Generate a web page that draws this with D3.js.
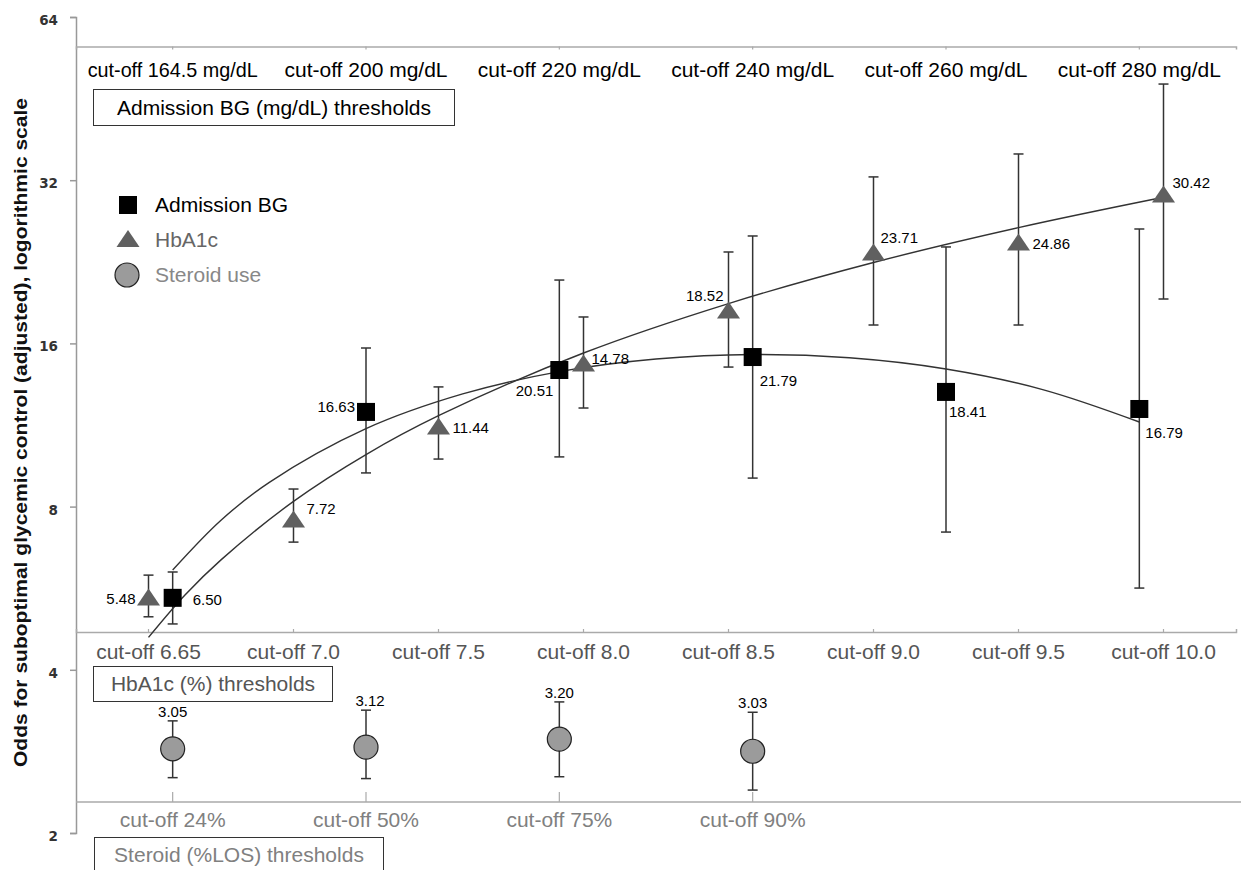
<!DOCTYPE html>
<html>
<head>
<meta charset="utf-8">
<script src="https://cdn.jsdelivr.net/npm/d3@7"></script>
<style>
  html, body { margin: 0; padding: 0; background: #fff; }
  svg { display: block; font-family: "Liberation Sans", Arial, Helvetica, sans-serif; }
</style>
</head>
<body>
<svg id="chart" width="1241" height="870"></svg>
<script>
// ---------------- data ----------------
const yTicks = [2, 4, 8, 16, 32, 64];

const bgCats = ["cut-off 164.5 mg/dL", "cut-off 200 mg/dL", "cut-off 220 mg/dL",
                "cut-off 240 mg/dL", "cut-off 260 mg/dL", "cut-off 280 mg/dL"];
const bgOdds = [5.43, 11.96, 14.29, 15.10, 13.02, 12.11];
const bgLow  = [4.86, 9.23, 9.88, 9.03, 7.18, 5.66];
const bgHigh = [6.06, 15.69, 20.94, 25.25, 24.10, 26.01];
const bgLabels = ["6.50", "16.63", "20.51", "21.79", "18.41", "16.79"];

const hbCats = ["cut-off 6.65", "cut-off 7.0", "cut-off 7.5", "cut-off 8.0",
                "cut-off 8.5", "cut-off 9.0", "cut-off 9.5", "cut-off 10.0"];
const hbOdds = [5.45, 7.59, 11.27, 14.72, 18.44, 23.59, 24.61, 30.17];
const hbLow  = [5.01, 6.88, 9.79, 12.16, 14.47, 17.30, 17.30, 19.32];
const hbHigh = [5.98, 8.62, 13.30, 17.90, 23.59, 32.45, 35.77, 48.14];
const hbLabels = ["5.48", "7.72", "11.44", "14.78", "18.52", "23.71", "24.86", "30.42"];

const stCats = ["cut-off 24%", "cut-off 50%", "cut-off 75%", "cut-off 90%"];
const stOdds = [2.86, 2.88, 2.98, 2.83];
const stLow  = [2.53, 2.52, 2.54, 2.40];
const stHigh = [3.22, 3.37, 3.49, 3.34];
const stLabels = ["3.05", "3.12", "3.20", "3.03"];

// trend lines (x as category index)
const bgTrendIdx = [0, 0.25, 0.5, 1, 1.5, 2, 2.5, 3, 3.5, 4, 4.5, 5];
const bgTrend    = [6.11, 7.55, 8.87, 11.14, 12.91, 14.19, 14.97, 15.26, 15.05, 14.35, 13.15, 11.46];
const hbTrendIdx = [0, 0.25, 0.5, 1, 1.5, 2, 3, 4, 5, 6, 7];
const hbTrend    = [4.59, 5.49, 6.38, 8.18, 9.98, 11.77, 15.36, 18.95, 22.56, 26.16, 29.76];

const legendItems = ["Admission BG", "HbA1c", "Steroid use"];
const yTitle = "Odds for suboptimal glycemic control (adjusted), logorithmic scale";

// ---------------- layout / styles (kept apart from data) ----------------
const X0 = 76, X1 = 1236;
const yTop = 17, yBot = 833;
const bgAxisY = 46.5, hbAxisY = 632, stAxisY = 802;
const C_HB = "#555555", C_ST = "#808080", C_AX = "#aaaaaa";
const FS = 21;

// label placements [dx, dy, anchor]
const bgLabelPos = [[20, 7, "start"], [-11, 0, "end"], [-6, 26, "end"], [7, 29, "start"], [3, 25, "start"], [6, 29, "start"]];
const hbLabelPos = [[-13, 7, "end"], [13, -5, "start"], [14, 7, "start"], [8, 1, "start"], [-5, -9, "end"], [7, -9, "start"], [14, 7, "start"], [9, -6, "start"]];

const svg = d3.select("#chart");
svg.append("rect").attr("width", 1241).attr("height", 870).attr("fill", "#fff");

const y = d3.scaleLog().base(2).domain([2, 64]).range([yBot, yTop]);
const xBG = d3.scaleBand().domain(bgCats).range([X0, X1]);
const xHB = d3.scaleBand().domain(hbCats).range([X0, X1]);
const xST = d3.scaleBand().domain(stCats).range([X0, X0 + 4 * xBG.step()]);

const cx = (sc, c) => sc(c) + sc.bandwidth() / 2;
const idxX = (sc, cats, i) => sc(cats[0]) + sc.bandwidth() / 2 + i * sc.step();

// ---------------- y axis ----------------
const yAxis = d3.axisLeft(y).tickValues(yTicks).tickFormat(d3.format("d")).tickSize(6).tickPadding(12);
const gY = svg.append("g").attr("transform", `translate(${X0},0)`).call(yAxis);
gY.select(".domain").attr("stroke", "#999").attr("stroke-width", 1.5);
gY.selectAll(".tick line").attr("stroke", "#999").attr("stroke-width", 1.5);
gY.selectAll(".tick text").attr("font-family", "DejaVu Sans, sans-serif").attr("font-weight", "bold")
  .attr("font-size", 13.5).attr("fill", "#333").attr("dy", "0.55em");

svg.append("text")
  .attr("transform", `translate(27,${(98 + 767) / 2}) rotate(-90)`)
  .attr("text-anchor", "middle")
  .attr("font-weight", "bold").attr("font-size", 18).attr("fill", "#111")
  .attr("textLength", 669).attr("lengthAdjust", "spacingAndGlyphs")
  .text(yTitle);

// ---------------- category axes ----------------
function styleAxis(g, color) {
  g.select(".domain").attr("stroke", C_AX).attr("stroke-width", 1.5);
  g.selectAll(".tick line").attr("stroke", C_AX).attr("stroke-width", 1.2);
  g.selectAll(".tick text").attr("font-size", FS).attr("fill", color)
    .attr("font-family", "Liberation Sans, Arial, sans-serif");
}
const gBG = svg.append("g").attr("transform", `translate(0,${bgAxisY})`)
  .call(d3.axisBottom(xBG).tickSize(3).tickSizeOuter(3).tickPadding(12.5));
styleAxis(gBG, "#000");
gBG.selectAll(".tick text").filter((d, i) => i === 0)
  .attr("textLength", 170).attr("lengthAdjust", "spacingAndGlyphs");

const gHB = svg.append("g").attr("transform", `translate(0,${hbAxisY})`)
  .call(d3.axisBottom(xHB).tickSize(-3).tickSizeOuter(-3).tickPadding(12));
styleAxis(gHB, C_HB);

svg.append("line").attr("x1", X0).attr("x2", 1241).attr("y1", stAxisY).attr("y2", stAxisY)
  .attr("stroke", C_AX).attr("stroke-width", 1.5);
const gST = svg.append("g").attr("transform", `translate(0,${stAxisY})`)
  .call(d3.axisBottom(xST).tickSize(-10).tickSizeOuter(0).tickPadding(10));
styleAxis(gST, C_ST);
gST.select(".domain").remove();

// ---------------- boxes ----------------
function box(x, yy, w, h, txt, color) {
  svg.append("rect").attr("x", x).attr("y", yy).attr("width", w).attr("height", h)
    .attr("fill", "#fff").attr("stroke", "#333").attr("stroke-width", 1);
  svg.append("text").attr("x", x + w / 2).attr("y", yy + h / 2).attr("dy", "0.35em")
    .attr("text-anchor", "middle").attr("font-size", FS).attr("fill", color).text(txt);
}
box(93.5, 89.5, 361, 36, "Admission BG (mg/dL) thresholds", "#000");
box(93.5, 666.5, 239, 35, "HbA1c (%) thresholds", C_HB);
box(94.5, 837.5, 289, 35, "Steroid (%LOS) thresholds", C_ST);

// ---------------- trend lines ----------------
const bgLine = d3.line().curve(d3.curveCatmullRom)
  .x(i => idxX(xBG, bgCats, bgTrendIdx[i])).y(i => y(bgTrend[i]));
svg.append("path").attr("d", bgLine(d3.range(bgTrend.length)))
  .attr("fill", "none").attr("stroke", "#333").attr("stroke-width", 1.4);
const hbLine = d3.line().curve(d3.curveCatmullRom)
  .x(i => idxX(xHB, hbCats, hbTrendIdx[i])).y(i => y(hbTrend[i]));
svg.append("path").attr("d", hbLine(d3.range(hbTrend.length)))
  .attr("fill", "none").attr("stroke", "#333").attr("stroke-width", 1.4);

// ---------------- error bars ----------------
function errBars(xs, lo, hi) {
  const g = svg.append("g").attr("stroke", "#333").attr("stroke-width", 1.5);
  xs.forEach((xx, i) => {
    g.append("line").attr("x1", xx).attr("x2", xx).attr("y1", y(lo[i])).attr("y2", y(hi[i]));
    g.append("line").attr("x1", xx - 5).attr("x2", xx + 5).attr("y1", y(lo[i])).attr("y2", y(lo[i]));
    g.append("line").attr("x1", xx - 5).attr("x2", xx + 5).attr("y1", y(hi[i])).attr("y2", y(hi[i]));
  });
}
const bgX = bgCats.map(c => cx(xBG, c));
const hbX = hbCats.map(c => cx(xHB, c));
const stX = stCats.map(c => cx(xST, c));
errBars(bgX, bgLow, bgHigh);
errBars(hbX, hbLow, hbHigh);
errBars(stX, stLow, stHigh);

// ---------------- markers ----------------
const triPath = "M0,-8.5 L11.5,8.5 L-11.5,8.5 Z";
svg.append("g").selectAll("path").data(hbOdds).join("path")
  .attr("d", triPath).attr("fill", "#606060")
  .attr("transform", (d, i) => `translate(${hbX[i]},${y(d)})`);
svg.append("g").selectAll("rect").data(bgOdds).join("rect")
  .attr("x", (d, i) => bgX[i] - 9).attr("y", d => y(d) - 9)
  .attr("width", 18).attr("height", 18).attr("fill", "#000");
svg.append("g").selectAll("circle").data(stOdds).join("circle")
  .attr("cx", (d, i) => stX[i]).attr("cy", d => y(d)).attr("r", 12)
  .attr("fill", "#9b9b9b").attr("stroke", "#222").attr("stroke-width", 1.2);

// ---------------- data labels ----------------
const lab = svg.append("g").attr("font-size", 15).attr("fill", "#000");
bgOdds.forEach((d, i) => {
  const p = bgLabelPos[i];
  lab.append("text").attr("x", bgX[i] + p[0]).attr("y", y(d) + p[1])
    .attr("text-anchor", p[2]).text(bgLabels[i]);
});
hbOdds.forEach((d, i) => {
  const p = hbLabelPos[i];
  lab.append("text").attr("x", hbX[i] + p[0]).attr("y", y(d) + p[1])
    .attr("text-anchor", p[2]).text(hbLabels[i]);
});
stOdds.forEach((d, i) => {
  lab.append("text").attr("x", stX[i] + (i === 1 ? 4 : 0)).attr("y", y(stHigh[i]) - 4)
    .attr("text-anchor", "middle").text(stLabels[i]);
});

// ---------------- legend ----------------
const lg = svg.append("g");
lg.append("rect").attr("x", 119).attr("y", 196).attr("width", 18).attr("height", 18).attr("fill", "#000");
lg.append("path").attr("d", triPath).attr("fill", "#606060").attr("transform", "translate(128,238.5)");
lg.append("circle").attr("cx", 127).attr("cy", 275).attr("r", 12)
  .attr("fill", "#9b9b9b").attr("stroke", "#222").attr("stroke-width", 1.2);
const legColors = ["#000", "#666", "#888"];
legendItems.forEach((t, i) => {
  lg.append("text").attr("x", 155).attr("y", 205 + i * 35).attr("dy", "0.35em")
    .attr("font-size", FS).attr("fill", legColors[i]).text(t);
});
</script>
</body>
</html>
